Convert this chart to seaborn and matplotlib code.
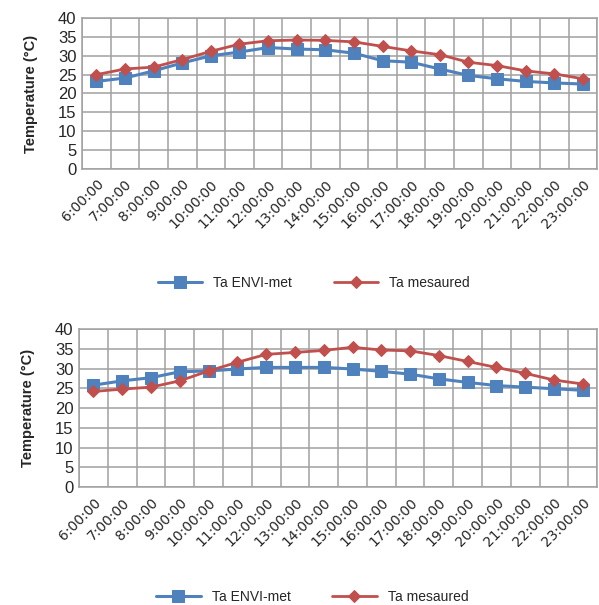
import numpy as np
import pandas as pd
import seaborn as sns
import matplotlib.pyplot as plt

# data
hours = ['6:00:00', '7:00:00', '8:00:00', '9:00:00', '10:00:00', '11:00:00',
         '12:00:00', '13:00:00', '14:00:00', '15:00:00', '16:00:00', '17:00:00',
         '18:00:00', '19:00:00', '20:00:00', '21:00:00', '22:00:00', '23:00:00']

envi_top = [23.2, 24.1, 26.0, 28.1, 30.0, 31.0, 32.2, 31.8, 31.6, 30.7,
            28.7, 28.3, 26.5, 24.8, 23.9, 23.2, 22.8, 22.5]
meas_top = [25.0, 26.5, 27.0, 29.0, 31.2, 33.1, 34.0, 34.2, 34.1, 33.7,
            32.5, 31.3, 30.3, 28.3, 27.4, 26.0, 25.2, 23.9]

envi_bot = [25.8, 26.9, 27.7, 29.2, 29.4, 29.9, 30.3, 30.3, 30.3, 29.9,
            29.3, 28.6, 27.4, 26.5, 25.7, 25.3, 24.9, 24.5]
meas_bot = [24.2, 24.8, 25.3, 26.9, 29.4, 31.6, 33.6, 34.1, 34.6, 35.4,
            34.7, 34.5, 33.3, 31.8, 30.3, 28.8, 27.1, 26.1]

BLUE = '#4F81BD'
RED = '#C0504D'

sns.set_style('white')
plt.rcParams['font.family'] = ['Liberation Sans', 'DejaVu Sans']

fig = plt.figure(figsize=(5.99, 6.05), dpi=100)
ax1 = fig.add_axes([0.137, 0.721, 0.860, 0.249])
ax2 = fig.add_axes([0.132, 0.195, 0.865, 0.261])


def draw(ax, envi, meas, leg_y):
    df = pd.DataFrame({'time': hours, 'envi': envi, 'meas': meas})
    sns.lineplot(data=df, x='time', y='envi', ax=ax, color=BLUE, marker='s',
                 markersize=9, markeredgecolor=BLUE, linewidth=2.2,
                 label='Ta ENVI-met', sort=False)
    sns.lineplot(data=df, x='time', y='meas', ax=ax, color=RED, marker='D',
                 markersize=6.5, markeredgecolor=RED, linewidth=2.0,
                 label='Ta mesaured', sort=False)
    ax.set_xlim(-0.5, len(hours) - 0.5)
    ax.set_ylim(0, 40)
    ax.set_yticks(range(0, 41, 5))
    ax.set_xticks(range(len(hours)))
    ax.set_xticklabels(hours, rotation=45, ha='right', rotation_mode='anchor',
                       fontsize=10, family='DejaVu Sans')
    ax.set_xticks(np.arange(-0.5, len(hours), 1), minor=True)
    ax.tick_params(axis='y', labelsize=12, pad=4, length=0)
    ax.tick_params(axis='x', which='both', length=0, pad=6)
    ax.grid(True, axis='y', color='#A0A0A0', linewidth=1.1)
    ax.grid(True, axis='x', which='minor', color='#A0A0A0', linewidth=1.1)
    ax.grid(False, axis='x', which='major')
    for s in ax.spines.values():
        s.set_color('#A0A0A0')
        s.set_linewidth(1.1)
    ax.set_xlabel('')
    ax.set_ylabel('Temperature (°C)', fontsize=10.5, fontweight='bold', labelpad=14)
    ax.legend(loc='center', bbox_to_anchor=(0.45, leg_y), ncol=2, frameon=False,
              fontsize=10, handlelength=3.2, columnspacing=3, borderaxespad=0)


draw(ax1, envi_top, meas_top, -0.757)
draw(ax2, envi_bot, meas_bot, -0.696)

fig.savefig('out.png', dpi=100)
